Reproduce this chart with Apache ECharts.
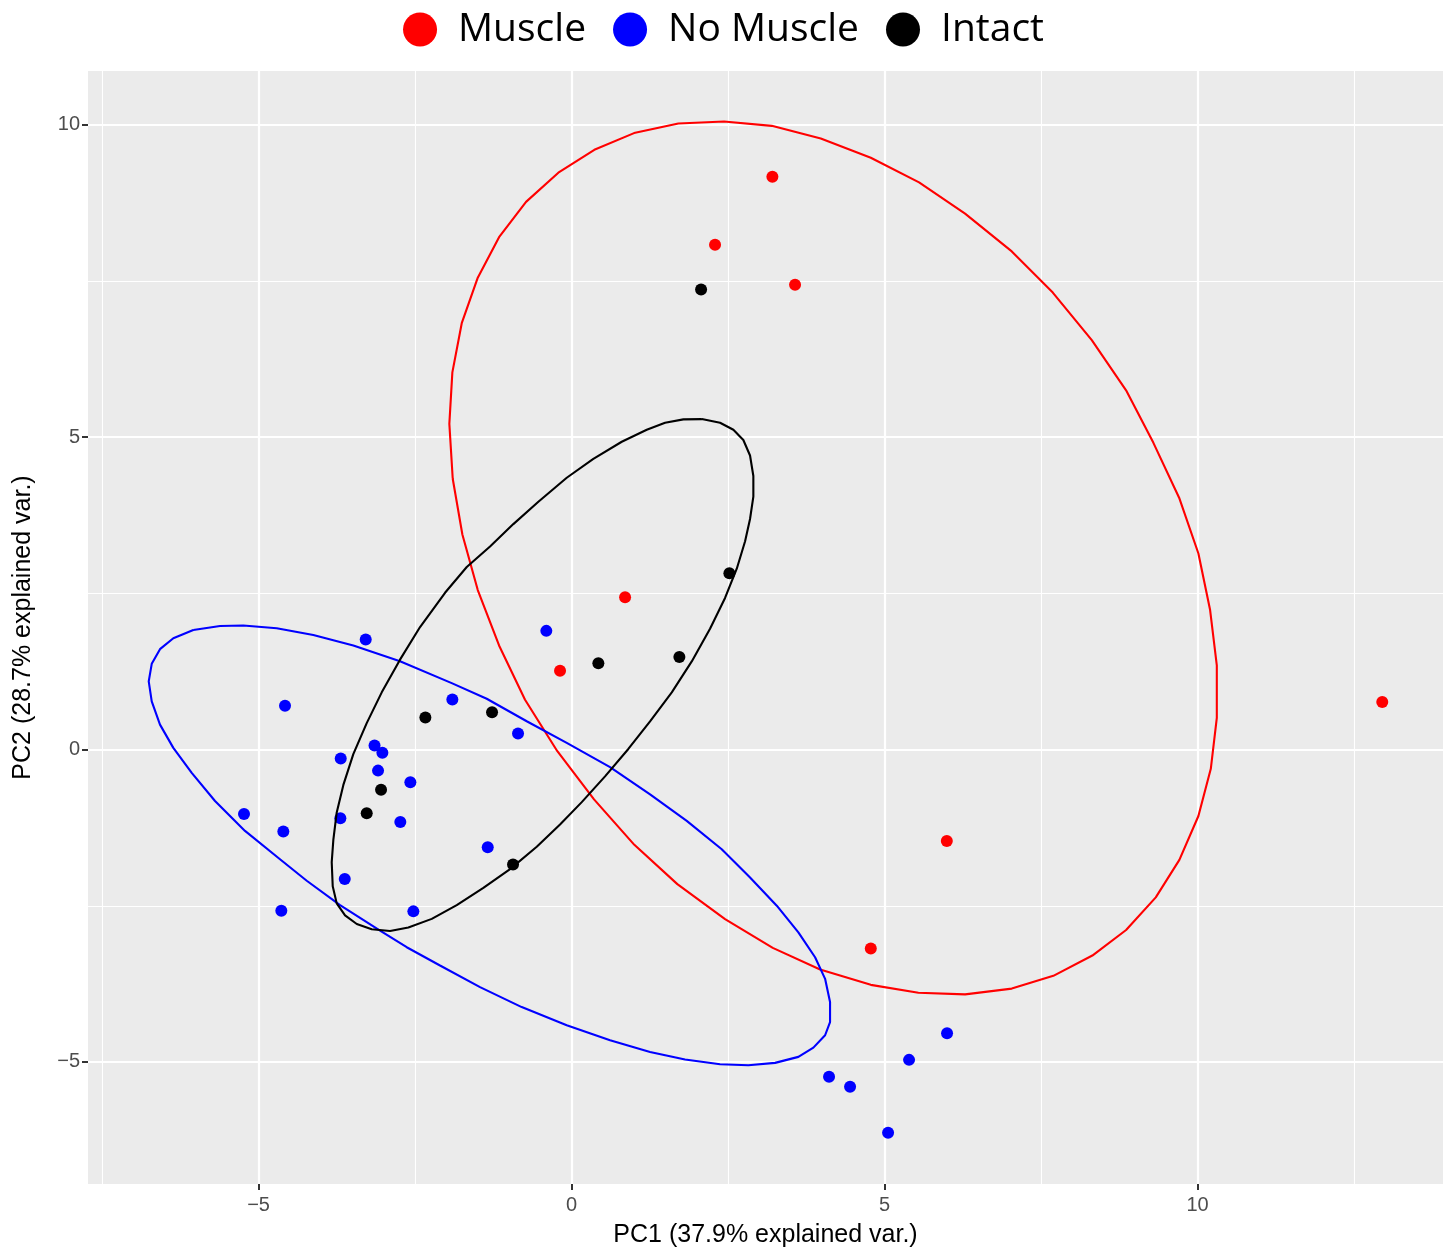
<!DOCTYPE html>
<html><head><meta charset="utf-8">
<script src="https://cdn.jsdelivr.net/npm/echarts@6/dist/echarts.min.js"></script>
<style>html,body{margin:0;padding:0;background:#fff;overflow:hidden}#c{width:1447px;height:1253px}</style>
</head><body><div id="c"></div><script>
// ---- data ----
const categories = ['Muscle', 'No Muscle', 'Intact'];
const colors = ['#FF0000', '#0000FF', '#000000'];

const muscleX = [3.208, 2.292, 3.570, 0.855, -0.184, 12.95, 5.994, 4.780];
const muscleY = [9.170, 8.080, 7.442, 2.438, 1.262, 0.761, -1.462, -3.185];

const noMuscleX = [-0.403, -3.288, -1.904, -0.855, -3.147, -3.022, -3.687, -3.091, -2.575, -3.693, -2.735, -1.339, -3.623, -2.527, -4.577, -5.232, -4.604, -4.636, 5.998, 5.391, 4.113, 4.449, 5.056];
const noMuscleY = [1.900, 1.763, 0.801, 0.257, 0.065, -0.051, -0.144, -0.337, -0.523, -1.099, -1.160, -1.562, -2.073, -2.590, 0.702, -1.031, -1.313, -2.579, -4.540, -4.967, -5.239, -5.399, -6.133];

const intactX = [2.069, 2.521, 1.722, 0.428, -1.270, -2.335, -3.043, -3.272, -0.935];
const intactY = [7.364, 2.823, 1.482, 1.383, 0.598, 0.515, -0.643, -1.018, -1.841];

// ellipse outlines (vertices)
const muscleEllX = [-1.898,-1.952,-1.904,-1.754,-1.498,-1.158,-0.727,-0.211,0.364,0.998,1.706,2.436,3.198,3.981,4.780,5.551,6.286,7.032,7.687,8.310,8.858,9.294,9.705,10.013,10.200,10.307,10.307,10.211,10.013,9.709,9.332,8.858,8.319,7.696,7.032,6.286,5.540,4.780,3.970,3.214,2.452,1.690,1.003,0.359,-0.227,-0.743,-1.158,-1.498,-1.744];
const muscleEllY = [4.335,5.213,6.038,6.825,7.554,8.202,8.767,9.234,9.601,9.868,10.021,10.053,9.984,9.781,9.473,9.079,8.580,7.974,7.315,6.553,5.751,4.910,4.032,3.139,2.234,1.347,0.506,-0.308,-1.063,-1.765,-2.366,-2.888,-3.297,-3.622,-3.826,-3.919,-3.893,-3.766,-3.520,-3.175,-2.713,-2.154,-1.525,-0.798,-0.026,0.798,1.666,2.553,3.442];

const noMuscleEllX = [-6.042,-5.615,-5.243,-4.709,-4.125,-3.486,-2.740,-1.914,-1.355,-0.716,-0.077,0.615,1.254,1.840,2.399,2.851,3.278,3.623,3.890,4.050,4.129,4.129,4.050,3.863,3.623,3.251,2.824,2.372,1.813,1.254,0.615,-0.077,-0.796,-1.462,-2.101,-2.633,-3.059,-3.698,-4.230,-4.657,-5.216,-5.695,-6.067,-6.361,-6.574,-6.706,-6.754,-6.706,-6.574,-6.361];
const noMuscleEllY = [1.915,1.979,1.985,1.942,1.835,1.666,1.415,1.064,0.814,0.453,0.107,-0.281,-0.718,-1.142,-1.595,-2.047,-2.499,-2.925,-3.324,-3.670,-4.042,-4.361,-4.573,-4.771,-4.919,-5.015,-5.052,-5.036,-4.962,-4.840,-4.653,-4.414,-4.122,-3.803,-3.456,-3.164,-2.898,-2.489,-2.100,-1.755,-1.302,-0.823,-0.372,0.027,0.399,0.772,1.091,1.372,1.607,1.782];

const intactEllX = [2.080,2.372,2.585,2.744,2.851,2.904,2.904,2.851,2.772,2.639,2.452,2.212,1.920,1.601,1.254,0.907,0.535,0.163,-0.184,-0.556,-0.982,-1.409,-1.834,-2.233,-2.607,-2.899,-3.192,-3.431,-3.618,-3.751,-3.815,-3.831,-3.805,-3.751,-3.645,-3.486,-3.272,-3.032,-2.740,-2.420,-2.021,-1.674,-1.302,-0.930,-0.530,-0.077,0.348,0.802,1.201,1.494,1.786];
const intactEllY = [5.290,5.231,5.120,4.955,4.707,4.379,4.048,3.691,3.335,2.895,2.427,1.934,1.411,0.916,0.450,0.010,-0.429,-0.841,-1.198,-1.556,-1.913,-2.215,-2.491,-2.710,-2.847,-2.903,-2.875,-2.792,-2.655,-2.462,-2.188,-1.803,-1.446,-1.007,-0.566,-0.072,0.423,0.916,1.439,1.961,2.510,2.922,3.252,3.609,3.967,4.351,4.653,4.927,5.120,5.231,5.285];

// axis ticks
const xTicks = [-5, 0, 5, 10];
const yTicks = [-5, 0, 5, 10];
const xMinor = [-7.5, -2.5, 2.5, 7.5, 12.5];
const yMinor = [-2.5, 2.5, 7.5];
const xRange = [-7.724, 13.92];
const yRange = [-6.954, 10.862];

// ---- build ----
const zip = (xs, ys) => xs.map((x, i) => [x, ys[i]]);
const closed = (xs, ys) => { const p = zip(xs, ys); p.push(p[0]); return p; };
const pts = [zip(muscleX, muscleY), zip(noMuscleX, noMuscleY), zip(intactX, intactY)];
const ells = [closed(muscleEllX, muscleEllY), closed(noMuscleEllX, noMuscleEllY), closed(intactEllX, intactEllY)];
const minus = v => String(v).replace('-', '\u2212');
const FONT = "'Liberation Sans', Arial, sans-serif";

const gridLines = [];
xTicks.forEach(v => gridLines.push({ xAxis: v, lineStyle: { width: 2.2 } }));
xMinor.forEach(v => gridLines.push({ xAxis: v, lineStyle: { width: 1.1 } }));
yTicks.forEach(v => gridLines.push({ yAxis: v, lineStyle: { width: 2.2 } }));
yMinor.forEach(v => gridLines.push({ yAxis: v, lineStyle: { width: 1.1 } }));

const series = [{
  type: 'scatter', name: '_grid', data: [], z: 1, silent: true,
  markLine: {
    z: 1, silent: true, symbol: ['none', 'none'], animation: false,
    label: { show: false },
    lineStyle: { color: '#FFFFFF', type: 'solid' },
    emphasis: { disabled: true },
    data: gridLines
  }
}];
categories.forEach((c, i) => {
  series.push({
    type: 'scatter', name: c, data: pts[i], symbol: 'circle', symbolSize: 12,
    itemStyle: { color: colors[i], opacity: 1 }, z: 3, animation: false
  });
});
categories.forEach((c, i) => {
  series.push({
    type: 'line', name: c + ' ellipse', data: ells[i], showSymbol: false, symbol: 'none',
    lineStyle: { color: colors[i], width: 2.1 }, z: 4, silent: true, animation: false
  });
});

const axisCommon = {
  type: 'value',
  splitNumber: 4,
  splitLine: { show: false },
  axisLine: { show: true, onZero: false, lineStyle: { color: 'rgba(0,0,0,0)' } }
};

const chart = echarts.init(document.getElementById('c'), null, { renderer: 'canvas', width: 1447, height: 1253 });
chart.setOption({
  backgroundColor: '#FFFFFF',
  animation: false,
  legend: {
    data: categories, top: 5, left: 'center', icon: 'circle',
    itemWidth: 66, itemHeight: 34, itemGap: 27,
    textStyle: { fontSize: 39, color: '#000', fontFamily: "'Open Sans', sans-serif" },
    selectedMode: false
  },
  grid: { left: 88, right: 4, top: 71, bottom: 53.5, show: true, backgroundColor: '#EBEBEB', borderWidth: 0 },
  xAxis: Object.assign({}, axisCommon, {
    min: xRange[0], max: xRange[1],
    axisTick: { show: true, inside: false, length: 6, customValues: xTicks, lineStyle: { color: '#333333', width: 2 } },
    axisLabel: { customValues: xTicks, formatter: minus, color: '#4D4D4D', fontSize: 20, fontFamily: FONT, margin: 11 },
    name: 'PC1 (37.9% explained var.)', nameLocation: 'middle', nameGap: 39,
    nameTextStyle: { fontSize: 25, color: '#000', fontFamily: FONT }
  }),
  yAxis: Object.assign({}, axisCommon, {
    min: yRange[0], max: yRange[1],
    axisTick: { show: true, inside: false, length: 6, customValues: yTicks, lineStyle: { color: '#333333', width: 2 } },
    axisLabel: { customValues: yTicks, formatter: minus, color: '#4D4D4D', fontSize: 20, fontFamily: FONT, margin: 8 },
    name: 'PC2 (28.7% explained var.)', nameLocation: 'middle', nameGap: 52, nameRotate: 90,
    nameTextStyle: { fontSize: 25, color: '#000', fontFamily: FONT }
  }),
  series: series
});
</script></body></html>
